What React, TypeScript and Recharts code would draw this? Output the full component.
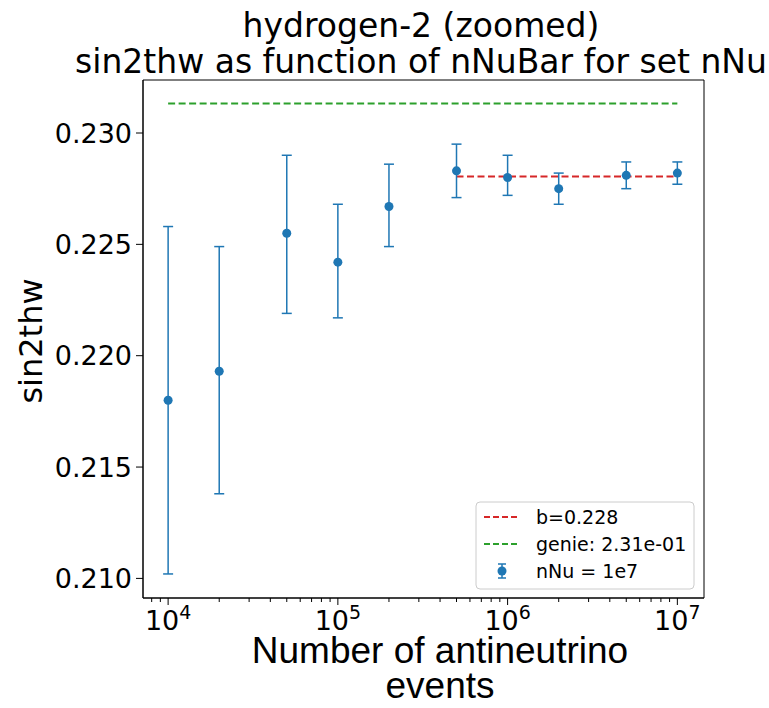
import React from 'react';
import { ComposedChart, Scatter, ErrorBar, XAxis, YAxis, ReferenceLine, ReferenceArea } from 'recharts';

const nNuBar = [1e4, 2e4, 5e4, 1e5, 2e5, 5e5, 1e6, 2e6, 5e6, 1e7];
const sin2thw = [0.2180, 0.2193, 0.2255, 0.2242, 0.2267, 0.2283, 0.2280, 0.2275, 0.2281, 0.2282];
const errTop = [0.2258, 0.2249, 0.2290, 0.2268, 0.2286, 0.2295, 0.2290, 0.2282, 0.2287, 0.2287];
const errBottom = [0.2102, 0.2138, 0.2219, 0.2217, 0.2249, 0.2271, 0.2272, 0.2268, 0.2275, 0.2277];

const fitValue = 0.22805;
const fitRange = [5e5, 1e7];
const genieValue = 0.23132;
const genieRange = [1e4, 1e7];

const yTicks = [0.210, 0.215, 0.220, 0.225, 0.230];
const xMajorTicks = [1e4, 1e5, 1e6, 1e7];
const xMinorTicks = [8e3, 9e3, 2e4, 3e4, 4e4, 5e4, 6e4, 7e4, 8e4, 9e4, 2e5, 3e5, 4e5, 5e5, 6e5, 7e5, 8e5, 9e5, 2e6, 3e6, 4e6, 5e6, 6e6, 7e6, 8e6, 9e6];

const xDomain = [Math.pow(10, 3.852), Math.pow(10, 7.157)];
const yDomain = [0.20912, 0.23238];

const data = nNuBar.map((x, i) => ({
  x,
  y: sin2thw[i],
  err: [sin2thw[i] - errBottom[i], errTop[i] - sin2thw[i]],
}));

const BLUE = '#1f77b4';
const RED = '#d62728';
const GREEN = '#2ca02c';
const FONT = '"DejaVu Sans", sans-serif';
const SANS = '"Liberation Sans", Arial, sans-serif';

const XTick = (props: any) => {
  const { x, y, payload } = props;
  const v = payload.value as number;
  const exp = Math.round(Math.log10(v));
  const major = Math.abs(v - Math.pow(10, exp)) < 1e-6 * v;
  return (
    <g>
      <line x1={x} x2={x} y1={y} y2={y + (major ? 7 : 4)} stroke="#000" strokeWidth={1} />
      {major && (
        <text x={x} y={y + 32} textAnchor="middle" fontFamily={FONT} fontSize={27} fill="#000">
          <tspan>10</tspan>
          <tspan dy={-11} fontSize={19}>{exp}</tspan>
        </text>
      )}
    </g>
  );
};

const Dot = (props: any) => {
  const { cx, cy } = props;
  return <circle cx={cx} cy={cy} r={4.5} fill={BLUE} />;
};

export default function App() {
  return (
    <div style={{ position: 'absolute', left: 0, top: 0, width: 769, height: 708, background: '#fff' }}>
      <ComposedChart
        width={769}
        height={708}
        data={data}
        margin={{ top: 80, right: 65, bottom: 0, left: 0 }}
      >
        <XAxis
          dataKey="x"
          type="number"
          scale="log"
          domain={xDomain}
          allowDataOverflow
          ticks={[...xMajorTicks, ...xMinorTicks]}
          interval={0}
          tick={<XTick />}
          tickLine={false}
          tickSize={0}
          tickMargin={0}
          height={110}
          axisLine={{ stroke: '#000' }}
        />
        <YAxis
          dataKey="y"
          type="number"
          domain={yDomain}
          allowDataOverflow
          ticks={yTicks}
          interval={0}
          tickFormatter={(v: number) => v.toFixed(3)}
          tick={{ fontFamily: FONT, fontSize: 27, fill: '#000' }}
          tickSize={7}
          tickMargin={4}
          tickLine={{ stroke: '#000' }}
          width={143}
          axisLine={{ stroke: '#000' }}
        />
        <ReferenceArea
          x1={xDomain[0]}
          x2={xDomain[1]}
          y1={yDomain[0]}
          y2={yDomain[1]}
          fill="none"
          fillOpacity={0}
          stroke="#000"
          strokeWidth={1}
          ifOverflow="visible"
        />
        <ReferenceLine
          segment={[{ x: genieRange[0], y: genieValue }, { x: genieRange[1], y: genieValue }]}
          stroke={GREEN}
          strokeWidth={2}
          strokeDasharray="7 3.5"
        />
        <ReferenceLine
          segment={[{ x: fitRange[0], y: fitValue }, { x: fitRange[1], y: fitValue }]}
          stroke={RED}
          strokeWidth={2}
          strokeDasharray="7 3.5"
        />
        <Scatter dataKey="y" fill={BLUE} shape={<Dot />} isAnimationActive={false}>
          <ErrorBar dataKey="err" direction="y" width={5} stroke={BLUE} strokeWidth={1.5} />
        </Scatter>
      </ComposedChart>
      <svg
        width={769}
        height={708}
        style={{ position: 'absolute', left: 0, top: 0, pointerEvents: 'none' }}
      >
        <text x={421} y={37} textAnchor="middle" fontFamily={FONT} fontSize={33} fill="#000">
          hydrogen-2 (zoomed)
        </text>
        <text x={421} y={73} textAnchor="middle" fontFamily={FONT} fontSize={33} fill="#000">
          sin2thw as function of nNuBar for set nNu
        </text>
        <text
          x={0}
          y={0}
          transform="translate(42,341) rotate(-90)"
          textAnchor="middle"
          fontFamily={FONT}
          fontSize={32}
          fill="#000"
        >
          sin2thw
        </text>
        <text x={440} y={663} textAnchor="middle" fontFamily={SANS} fontSize={37} fill="#000">
          Number of antineutrino
        </text>
        <text x={440} y={698} textAnchor="middle" fontFamily={SANS} fontSize={37} fill="#000">
          events
        </text>
        <rect x={476} y={502} width={218} height={87} rx={4} fill="#fff" fillOpacity={0.8} stroke="#cccccc" />
        <line x1={484} x2={519} y1={517} y2={517} stroke={RED} strokeWidth={2} strokeDasharray="6 3" />
        <text x={536} y={524} fontFamily={FONT} fontSize={19} fill="#000">b=0.228</text>
        <line x1={484} x2={519} y1={544} y2={544} stroke={GREEN} strokeWidth={2} strokeDasharray="6 3" />
        <text x={536} y={551} fontFamily={FONT} fontSize={19} fill="#000">genie: 2.31e-01</text>
        <line x1={502} x2={502} y1={564} y2={578} stroke={BLUE} strokeWidth={1.5} />
        <line x1={498} x2={506} y1={564} y2={564} stroke={BLUE} strokeWidth={1.5} />
        <line x1={498} x2={506} y1={578} y2={578} stroke={BLUE} strokeWidth={1.5} />
        <circle cx={502} cy={571} r={4.5} fill={BLUE} />
        <text x={536} y={578} fontFamily={FONT} fontSize={19} fill="#000">nNu = 1e7</text>
      </svg>
    </div>
  );
}
